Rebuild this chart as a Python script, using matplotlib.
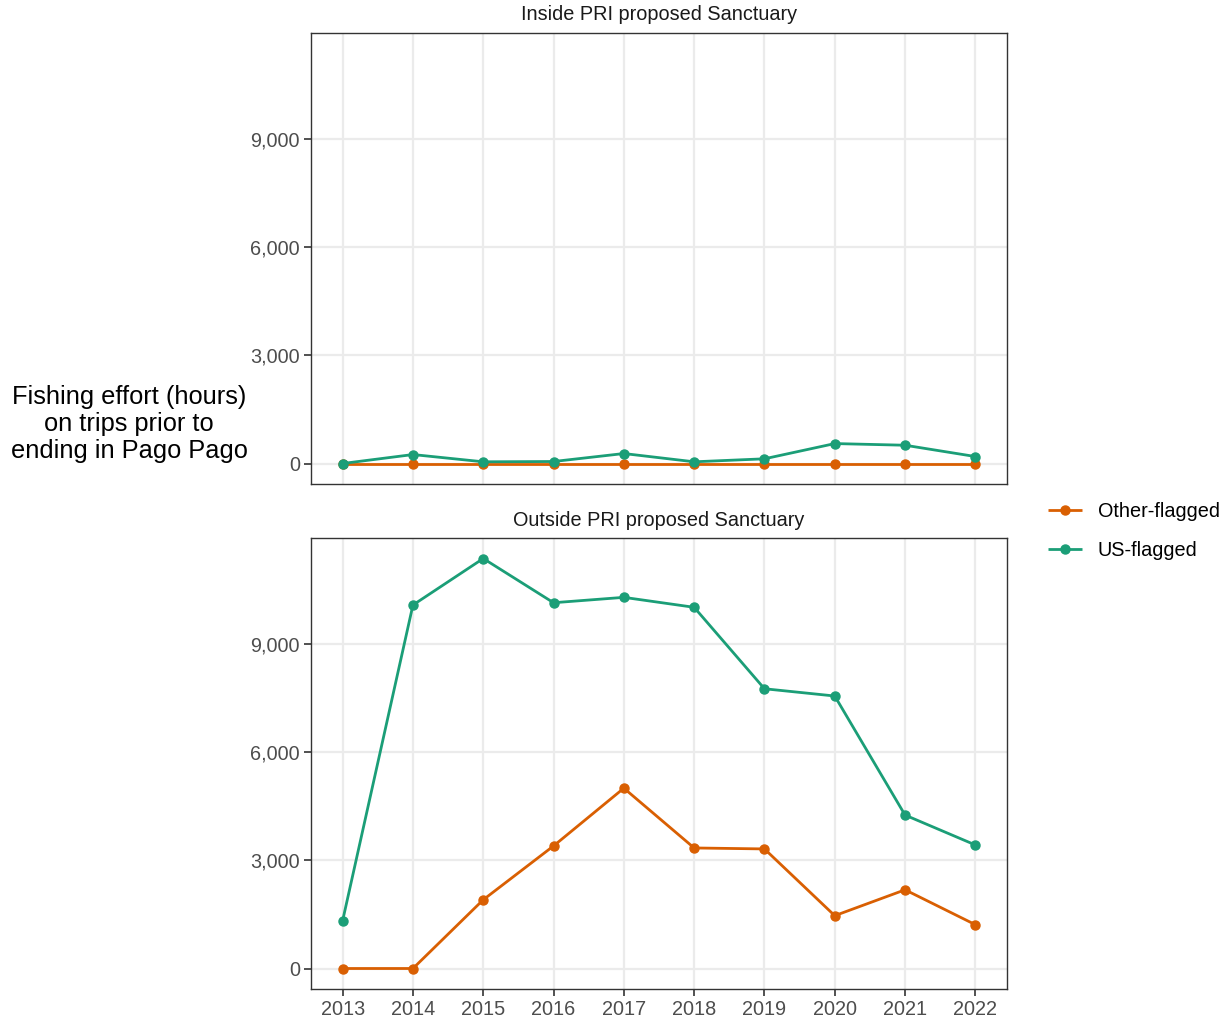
import numpy as np
import matplotlib
matplotlib.use("Agg")
import matplotlib.pyplot as plt
from matplotlib.ticker import FuncFormatter, FixedLocator

plt.rcParams['font.family'] = ['Liberation Sans', 'DejaVu Sans']

years = [2013, 2014, 2015, 2016, 2017, 2018, 2019, 2020, 2021, 2022]

# fishing hours inside the proposed sanctuary
inside_other = [0, 0, 0, 0, 0, 0, 0, 0, 0, 0]
inside_us = [0, 248, 47, 55, 276, 47, 130, 552, 506, 193]

# fishing hours outside the proposed sanctuary
outside_other = [0, 0, 1904, 3395, 4995, 3339, 3312, 1463, 2180, 1214]
outside_us = [1325, 10068, 11357, 10132, 10281, 10005, 7749, 7548, 4250, 3422]

panel_titles = ["Inside PRI proposed Sanctuary", "Outside PRI proposed Sanctuary"]
series_names = ["Other-flagged", "US-flagged"]
colors = ["#D95F02", "#1B9E77"]
yticks = [0, 3000, 6000, 9000]

fig = plt.figure(figsize=(12.31, 10.23), dpi=100)
ax_top = fig.add_axes([311/1231, 1 - 484/1023, 696/1231, 451/1023])
ax_bot = fig.add_axes([311/1231, 1 - 989/1023, 696/1231, 451/1023])

ymax = max(max(outside_us), max(inside_us))
pad = 0.05 * ymax
ylim = (-pad, ymax + pad)
xpad = 0.05 * (years[-1] - years[0])

panels = [(ax_top, [inside_other, inside_us]), (ax_bot, [outside_other, outside_us])]
for (ax, data), title in zip(panels, panel_titles):
    for vals, name, col in zip(data, series_names, colors):
        ax.plot(years, vals, color=col, lw=2, marker='o', ms=6.5,
                label=name, zorder=3, solid_capstyle='butt')
    ax.set_xlim(years[0] - xpad, years[-1] + xpad)
    ax.set_ylim(*ylim)
    ax.yaxis.set_major_locator(FixedLocator(yticks))
    ax.xaxis.set_major_locator(FixedLocator(years))
    ax.yaxis.set_major_formatter(FuncFormatter(lambda v, p: f"{int(v):,}"))
    ax.grid(True, color="#EBEBEB", lw=1.6, zorder=0)
    ax.set_axisbelow(True)
    for s in ax.spines.values():
        s.set_color("#333333")
        s.set_linewidth(1.0)
    ax.tick_params(axis='both', which='major', length=5, width=1.2, color="#333333",
                   labelsize=14.3, labelcolor="#4D4D4D", pad=3)
    ax.set_title(title, fontsize=14.3, color="#1A1A1A", pad=9)

ax_top.tick_params(axis='x', length=0, labelbottom=False)

fig.text(129/1231, 1 - 424/1023,
         "Fishing effort (hours)\non trips prior to\nending in Pago Pago",
         ha='center', va='center', fontsize=18.3, color="black", linespacing=1.15)

handles, labels = ax_bot.get_legend_handles_labels()
fig.legend(handles, labels, loc='center left', bbox_to_anchor=(1040/1231, 1 - 531/1023),
           frameon=False, fontsize=14.3, handlelength=1.7, handletextpad=0.8,
           labelspacing=1.0, borderaxespad=0)

fig.savefig("out.png", dpi=100)
